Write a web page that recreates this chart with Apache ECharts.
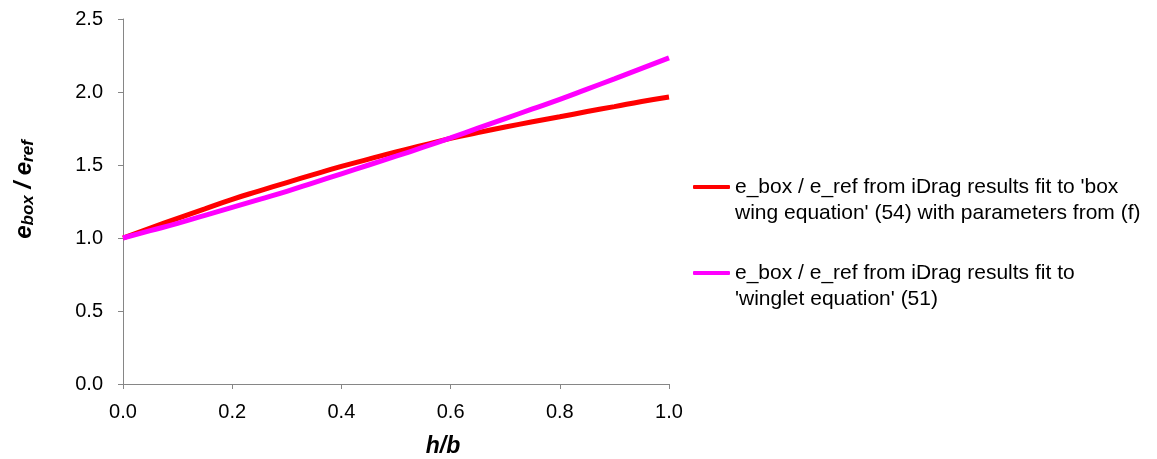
<!DOCTYPE html>
<html>
<head>
<meta charset="utf-8">
<script src="https://cdn.jsdelivr.net/npm/echarts@6/dist/echarts.min.js"></script>
<style>
  html, body { margin: 0; padding: 0; background: #fff; }
  #chart { width: 1157px; height: 459px; }
</style>
</head>
<body>
<div id="chart"></div>
<script>
// h/b positions
const hb = [0.00, 0.05, 0.10, 0.15, 0.20, 0.25, 0.30, 0.35, 0.40, 0.45, 0.50,
            0.55, 0.60, 0.65, 0.70, 0.75, 0.80, 0.85, 0.90, 0.95, 1.00];
// e_box / e_ref, box wing equation (54)
const boxWing = [1.000, 1.068, 1.135, 1.200, 1.265, 1.323, 1.380, 1.436, 1.490, 1.540, 1.590,
                 1.636, 1.682, 1.722, 1.760, 1.796, 1.830, 1.866, 1.900, 1.935, 1.966];
// e_box / e_ref, winglet equation (51)
const winglet = [1.000, 1.050, 1.100, 1.155, 1.210, 1.265, 1.320, 1.380, 1.440, 1.500, 1.560,
                 1.622, 1.686, 1.752, 1.818, 1.884, 1.950, 2.020, 2.090, 2.162, 2.234];
const seriesNames = [
  "e_box / e_ref from iDrag results fit to 'box\nwing equation' (54) with parameters from (f)",
  "e_box / e_ref from iDrag results fit to\n'winglet equation' (51)"
];

const font = '"Liberation Sans", Arial, sans-serif';
const axisGray = '#868686';

const chart = echarts.init(document.getElementById('chart'), null, { renderer: 'canvas' });
chart.setOption({
  animation: false,
  backgroundColor: '#ffffff',
  grid: { left: 123, right: 488, top: 19, bottom: 75, containLabel: false, outerBoundsMode: 'none' },
  xAxis: {
    type: 'value', min: 0, max: 1, interval: 0.2,
    name: 'h/b', nameLocation: 'middle', nameGap: 51,
    nameTextStyle: { fontFamily: font, fontSize: 23, fontWeight: 'bold', fontStyle: 'italic', color: '#000', padding: [0, 0, 0, 94] },
    axisLine: { show: true, lineStyle: { color: axisGray, width: 1 } },
    axisTick: { show: true, inside: false, length: 5, lineStyle: { color: axisGray } },
    axisLabel: { fontFamily: font, fontSize: 20, color: '#000', margin: 18, formatter: v => v.toFixed(1) },
    splitLine: { show: false }
  },
  yAxis: {
    type: 'value', min: 0, max: 2.5, interval: 0.5,
    name: 'e{sub|box} / e{sub|ref}', nameLocation: 'middle', nameGap: 86, nameRotate: 90,
    nameTextStyle: {
      fontFamily: font, fontSize: 24, fontWeight: 'bold', fontStyle: 'italic', color: '#000',
      padding: [0, 0, 0, 24],
      rich: { sub: { fontFamily: font, fontSize: 17, fontWeight: 'bold', fontStyle: 'italic', color: '#000', verticalAlign: 'bottom', padding: [9, 0, 0, 0] } }
    },
    axisLine: { show: true, lineStyle: { color: axisGray, width: 1 } },
    axisTick: { show: true, inside: false, length: 5, lineStyle: { color: axisGray } },
    axisLabel: { fontFamily: font, fontSize: 20, color: '#000', margin: 20, formatter: v => v.toFixed(1) },
    splitLine: { show: false }
  },
  legend: {
    orient: 'vertical', left: 693, top: 148, padding: 0, itemGap: 8,
    itemWidth: 37, itemHeight: 4,
    icon: 'roundRect',
    // blank leading line keeps the swatch level with the first text line
    formatter: name => ' \n' + name,
    textStyle: { fontFamily: font, fontSize: 21, color: '#000', lineHeight: 26 },
    data: seriesNames.map(n => ({ name: n }))
  },
  series: [
    {
      name: seriesNames[0], type: 'line', smooth: true, showSymbol: false, symbol: 'none',
      color: '#ff0000', lineStyle: { color: '#ff0000', width: 5 },
      data: hb.map((x, i) => [x, boxWing[i]])
    },
    {
      name: seriesNames[1], type: 'line', smooth: true, showSymbol: false, symbol: 'none',
      color: '#ff00ff', lineStyle: { color: '#ff00ff', width: 5 },
      data: hb.map((x, i) => [x, winglet[i]])
    }
  ]
});
</script>
</body>
</html>
